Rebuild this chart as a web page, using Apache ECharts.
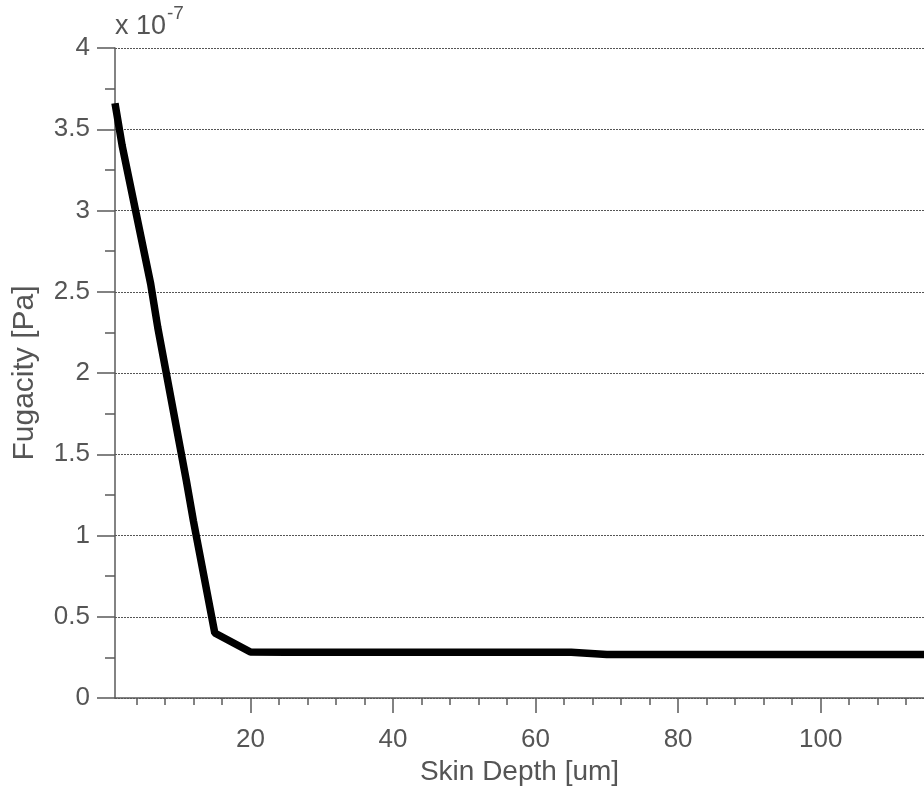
<!DOCTYPE html>
<html>
<head>
<meta charset="utf-8">
<title>Fugacity vs Skin Depth</title>
<script src="https://cdn.jsdelivr.net/npm/echarts@6/dist/echarts.min.js"></script>
<style>
  html, body { margin: 0; padding: 0; background: #fff; }
  #chart { width: 924px; height: 795px; }
</style>
</head>
<body>
<div id="chart"></div>
<script>
// skin depth in um
const depth = [1, 2, 6, 7, 11, 12, 15, 20, 25, 30, 35, 40, 45, 50, 55, 60, 65,
  70, 75, 80, 85, 90, 95, 100, 105, 110, 115]
// fugacity, in units of 1e-7 Pa
const fugacity = [3.66, 3.40, 2.55, 2.28, 1.34, 1.09, 0.40, 0.283, 0.282, 0.282,
  0.282, 0.282, 0.282, 0.282, 0.282, 0.282, 0.281, 0.268, 0.268, 0.268, 0.268,
  0.268, 0.268, 0.268, 0.268, 0.268, 0.268]
const xMajorTicks = [20, 40, 60, 80, 100]
const xMinorTicks = [4, 8, 12, 16, 24, 28, 32, 36, 44, 48, 52, 56, 64, 68, 72, 76,
  84, 88, 92, 96, 104, 108, 112]

const textColor = "#555"
const lineColor = "#5a5a5a"
const fontFamily = "'Liberation Sans', Arial, sans-serif"

let myChart = echarts.init(document.getElementById("chart"))

let option = {
  animation: false,
  grid: { left: 115, right: 0, top: 48, bottom: 97 },
  graphic: [
    {
      type: "text", left: 115, top: 13,
      style: { text: "x 10", fill: textColor, font: "27px " + fontFamily }
    },
    {
      type: "text", left: 167, top: 4,
      style: { text: "-7", fill: textColor, font: "19px " + fontFamily }
    }
  ],
  xAxis: [
    {
      type: "value",
      min: 1,
      max: 114.5,
      position: "bottom",
      name: "Skin Depth [um]",
      nameLocation: "middle",
      nameGap: 60,
      nameTextStyle: { color: textColor, fontSize: 28, fontFamily: fontFamily },
      axisLine: { lineStyle: { color: lineColor, width: 1.5 } },
      axisTick: { customValues: xMajorTicks, length: 15, lineStyle: { color: lineColor, width: 1.5 } },
      axisLabel: { customValues: xMajorTicks, margin: 29, color: textColor, fontSize: 26, fontFamily: fontFamily },
      splitLine: { show: false }
    },
    {
      type: "value",
      min: 1,
      max: 114.5,
      position: "bottom",
      axisLine: { show: false },
      axisTick: { customValues: xMinorTicks, length: 7, lineStyle: { color: lineColor, width: 1.5 } },
      axisLabel: { show: false },
      splitLine: { show: false }
    }
  ],
  yAxis: {
    type: "value",
    min: 0,
    max: 4,
    interval: 0.5,
    name: "Fugacity [Pa]",
    nameLocation: "middle",
    nameGap: 75,
    nameTextStyle: { color: textColor, fontSize: 30, fontFamily: fontFamily },
    axisLine: { show: true, lineStyle: { color: lineColor, width: 1.5 } },
    axisTick: { show: true, length: 18, lineStyle: { color: lineColor, width: 1.5 } },
    minorTick: { show: true, splitNumber: 2, length: 10, lineStyle: { color: lineColor, width: 1.5 } },
    axisLabel: { margin: 25, color: textColor, fontSize: 26, fontFamily: fontFamily },
    splitLine: { show: true, lineStyle: { color: "#555", width: 1, type: [2, 1] } }
  },
  series: [
    {
      type: "line",
      xAxisIndex: 0,
      data: depth.map((d, i) => [d, fugacity[i]]),
      showSymbol: false,
      symbol: "none",
      clip: true,
      lineStyle: { color: "#000", width: 7.5 }
    }
  ]
}
myChart.setOption(option)
</script>
</body>
</html>
